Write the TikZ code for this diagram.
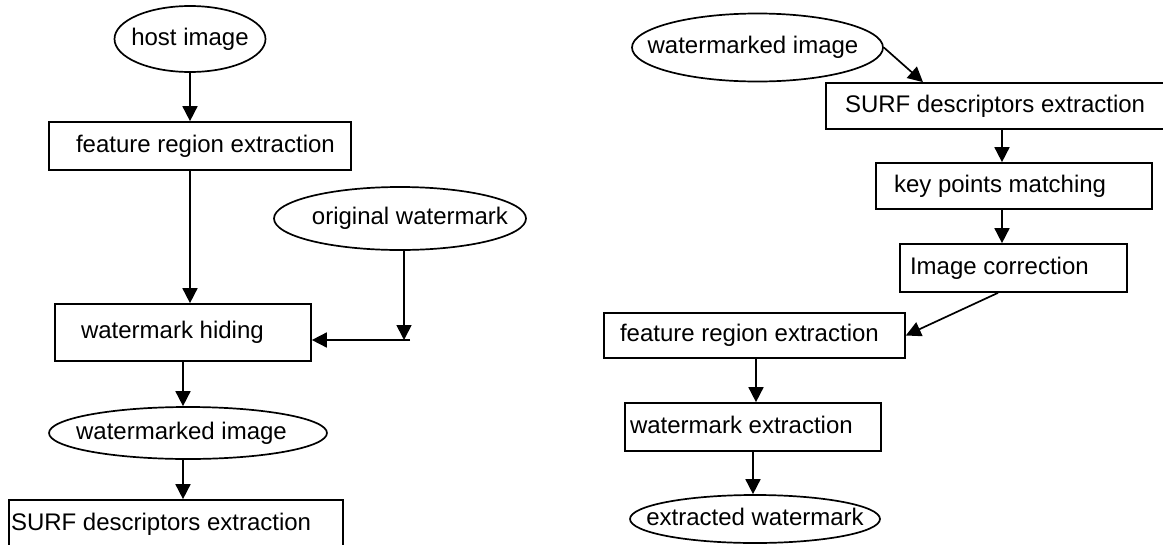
\documentclass[tikz,border=0pt]{standalone}
\usepackage{fontspec}
\setmainfont{Liberation Sans}
\usetikzlibrary{shapes.geometric,arrows.meta}
\newcommand{\zw}[1]{\makebox[0pt]{#1}}
\newcommand{\bt}[2]{\makebox[0pt][l]{\hspace{#1}#2}}
\begin{document}
\begin{tikzpicture}[x=1pt,y=-1pt,line width=1.7pt,
  every node/.style={font=\fontsize{24}{28}\selectfont, text height=17.5pt, text depth=5pt},
  ell/.style={draw, ellipse, inner sep=0pt},
  box/.style={draw, rectangle, inner sep=0pt},
  arr/.style={-{Triangle[width=15pt,length=15pt]}}]
\path[use as bounding box] (0,0) rectangle (1163,544);
\clip (0,0) rectangle (1163,544);
% left column
\node[ell, minimum width=151pt, minimum height=66pt] (host) at (190,39) {\zw{host image}};
\node[box, minimum width=302pt, minimum height=48pt] (fre1) at (200,146) {\bt{-124pt}{feature region extraction}};
\node[ell, minimum width=252pt, minimum height=63pt] (orig) at (400,218.5) {\zw{\hspace{20pt}original watermark}};
\node[box, minimum width=256pt, minimum height=57pt] (hide) at (183,332.5) {\bt{-102pt}{watermark hiding}};
\node[ell, minimum width=278pt, minimum height=52pt] (wm1) at (188,433) {\zw{watermarked image\hspace{13pt}}};
\node[box, minimum width=334pt, minimum height=48pt] (surf1) at (176,524) {\bt{-165pt}{SURF descriptors extraction}};
\coordinate (j) at (404,340);
\coordinate (jr) at (410,340);
\draw[arr] (host.south) -- (host.south |- fre1.north);
\draw[arr] (host.south |- fre1.south) -- (host.south |- hide.north);
\draw[arr] (orig.south -| j) -- (j);
\draw[arr] (jr) -- (jr -| hide.east);
\draw[arr] (hide.south) -- (hide.south |- wm1.north);
\draw[arr] (hide.south |- wm1.south) -- (hide.south |- surf1.north);
% right column
\node[ell, minimum width=251pt, minimum height=68pt] (wm2) at (757.5,47.5) {\zw{watermarked image\hspace{9pt}}};
\node[box, minimum width=340pt, minimum height=46pt] (surf2) at (996,106) {\bt{-151pt}{SURF descriptors extraction}};
\node[box, minimum width=276pt, minimum height=46pt] (kpm) at (1014,186) {\bt{-120pt}{key points matching}};
\node[box, minimum width=227pt, minimum height=48pt] (ic) at (1013.5,268) {\bt{-103.5pt}{Image correction}};
\node[box, minimum width=301pt, minimum height=45pt] (fre2) at (754.5,335.5) {\bt{-134.5pt}{feature region extraction}};
\node[box, minimum width=256pt, minimum height=48pt] (wme) at (753,427) {\bt{-123pt}{watermark extraction}};
\node[ell, minimum width=250pt, minimum height=48pt] (ew) at (755,519) {\zw{extracted watermark}};
\draw[arr] (wm2.east) -- ([xshift=-73pt]surf2.north);
\draw[arr] ([xshift=6pt]surf2.south) -- ([xshift=6pt]surf2.south |- kpm.north);
\draw[arr] ([xshift=-12pt]kpm.south) -- ([xshift=-12pt]kpm.south |- ic.north);
\draw[arr] ([xshift=-15.5pt]ic.south) -- (fre2.east);
\draw[arr] ([xshift=1.5pt]fre2.south) -- ([xshift=1.5pt]fre2.south |- wme.north);
\draw[arr] (wme.south) -- (wme.south |- ew.north);
\end{tikzpicture}
\end{document}
